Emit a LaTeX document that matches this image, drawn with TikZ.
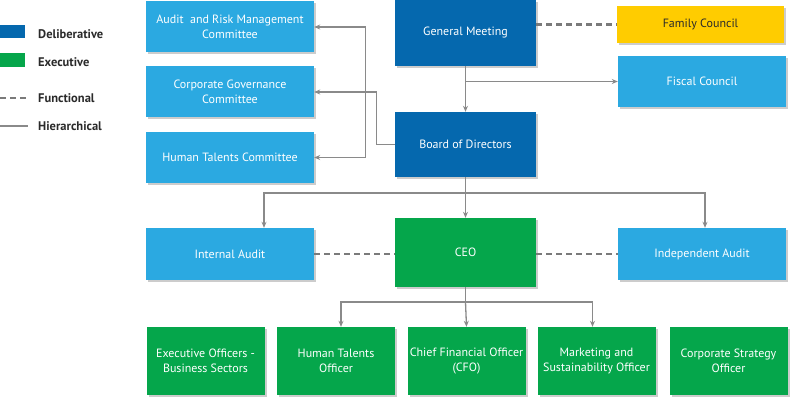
\documentclass[tikz,border=0pt]{standalone}
\usepackage{fontspec}
\setmainfont{PT Sans}
\usetikzlibrary{arrows.meta,shadows}
\definecolor{delib}{HTML}{0568AE}
\definecolor{exec}{HTML}{05A64B}
\definecolor{sky}{HTML}{2BA9E1}
\definecolor{gold}{HTML}{FFCC00}
\definecolor{wire}{HTML}{8A8A8A}
\definecolor{dashgray}{HTML}{7A7A7A}
\definecolor{ink}{HTML}{2A2A2A}

\begin{document}
\begin{tikzpicture}[x=1pt,y=-1pt]
\tikzstyle{every node}+=[inner sep=0pt, font=\fontsize{12}{15.5}\selectfont]
\tikzstyle{box}=[rectangle, align=center, text=white, drop shadow={shadow xshift=2pt,shadow yshift=-2pt,opacity=0.4}]
\tikzstyle{widebox}=[box, minimum width=168pt, minimum height=51pt]
\tikzstyle{headbox}=[box, fill=delib, minimum width=141pt, minimum height=66pt]
\tikzstyle{officer}=[box, fill=exec, minimum width=118pt, minimum height=68pt]
\tikzstyle{hier}=[draw=wire, line width=1.3pt, -{Stealth[length=6pt,width=5pt]}]
\tikzstyle{func}=[draw=dashgray, line width=2.2pt, dash pattern=on 6pt off 4pt]
\tikzstyle{legtext}=[anchor=west, text=ink, font=\fontsize{12.5}{14}\selectfont\bfseries]
\useasboundingbox (0,0) rectangle (790,401);
% legend
\node [fill=delib, minimum width=25pt, minimum height=13pt] (legd) at (12.5,32) {};
\node [fill=exec, minimum width=25pt, minimum height=14pt] (lege) at (12.5,60.5) {};
\draw [func, line width=1.8pt] (0,98) -- (27,98);
\draw [draw=wire, line width=2pt] (0,126) -- (28,126);
\node [legtext] (legdt) at (38,34) {Deliberative};
\node [legtext] (leget) at (38,62) {Executive};
\node [legtext] (legft) at (38,98) {Functional};
\node [legtext] (leght) at (38,126) {Hierarchical};
% boxes
\node [widebox, fill=sky] (arm) at (230,27) {Audit~ and Risk Management\\Committee};
\node [widebox, fill=sky] (cgc) at (230,92) {Corporate Governance\\Committee};
\node [widebox, fill=sky] (htc) at (230,157.5) {Human Talents Committee};
\node [headbox] (gm) at (465.5,33) {General Meeting};
\node [box, fill=gold, text=ink, minimum width=167pt, minimum height=37pt] (fam) at (700.5,24.5) {Family Council};
\node [widebox, fill=sky] (fis) at (702,81.5) {Fiscal Council};
\node [headbox, minimum height=65pt] (bod) at (465.5,144.5) {Board of Directors};
\node [widebox, fill=sky, minimum height=52pt] (ia) at (230,254) {Internal Audit};
\node [headbox, fill=exec, minimum height=69pt] (ceo) at (465.5,252.5) {CEO};
\node [widebox, fill=sky, minimum height=52pt] (inda) at (702,254) {Independent Audit};
\node [officer] (eob) at (205.5,361) {Executive Officers -\\Business Sectors};
\node [officer] (hto) at (336,361) {Human Talents\\Officer};
\node [officer] (cfo) at (466.5,361) {Chief Financial Officer\\(CFO)};
\node [officer] (mso) at (596.5,361) {Marketing and\\Sustainability Officer};
\node [officer] (cso) at (728.5,361) {Corporate Strategy\\Officer};
% connectors
\draw [func] (gm.east |- fam.west) -- (fam.west);
\draw [hier] (gm.south) -- (bod.north);
\draw [hier] (gm.south |- fis.west) -- (fis.west);
\draw [hier] (bod.west) -- ++(-18,0) |- (cgc.east);
\draw [hier, {Stealth[length=6pt,width=5pt]}-{Stealth[length=6pt,width=5pt]}] (arm.east) -- ++(51,0) |- (htc.east);
\coordinate (split) at (465.5,193);
\draw [draw=wire, line width=1.3pt] (bod.south) -- (split);
\draw [hier] (split) -- (ceo.north);
\draw [hier] (split) -| ([xshift=34pt]ia.north);
\draw [hier] (split) -| ([xshift=3pt]inda.north);
\draw [func] (ia.east) -- (ia.east -| ceo.west);
\draw [func] (inda.west -| ceo.east) -- (inda.west);
\coordinate (fan) at (465.5,302);
\draw [draw=wire, line width=1.3pt] (ceo.south) -- (fan);
\draw [hier] (fan) -- (cfo.north);
\draw [hier] (fan) -| ([xshift=5pt]hto.north);
\draw [hier] (fan) -| ([xshift=-4pt]mso.north);
\end{tikzpicture}
\end{document}
